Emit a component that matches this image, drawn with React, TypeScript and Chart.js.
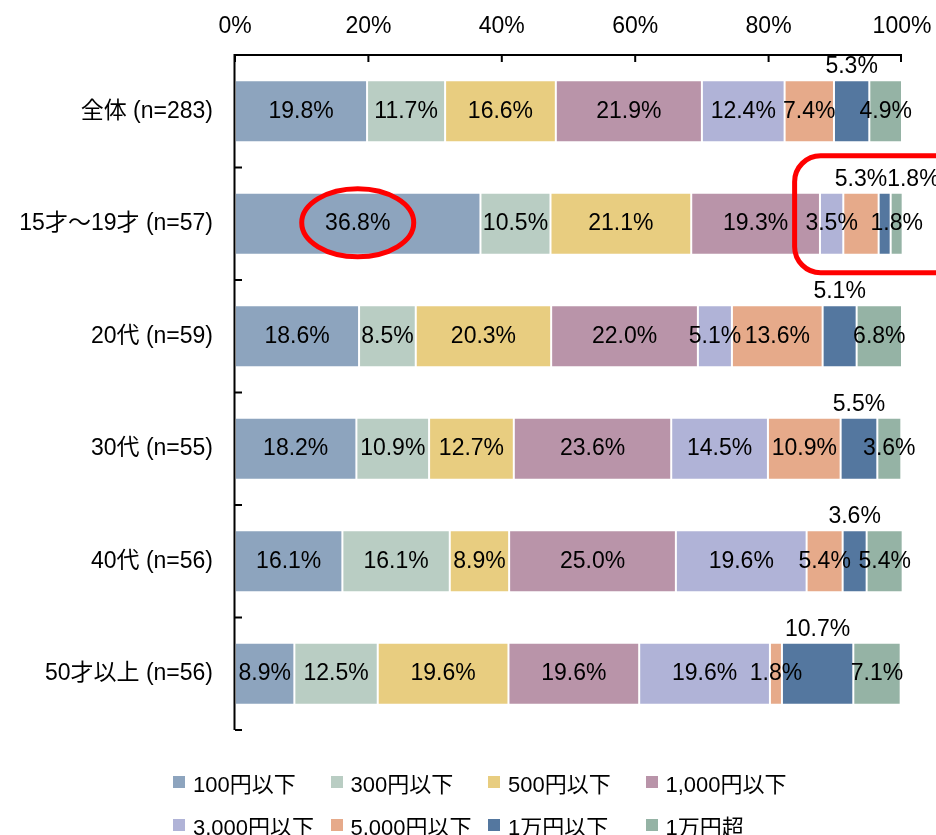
import React, { useEffect, useRef } from "react";
import { Chart, registerables } from "chart.js";

Chart.register(...registerables);

const categories = [
  "全体 (n=283)",
  "15才～19才 (n=57)",
  "20代 (n=59)",
  "30代 (n=55)",
  "40代 (n=56)",
  "50才以上 (n=56)",
];
const seriesNames = [
  "100円以下",
  "300円以下",
  "500円以下",
  "1,000円以下",
  "3,000円以下",
  "5,000円以下",
  "1万円以下",
  "1万円超",
];
const yen100 = [19.8, 36.8, 18.6, 18.2, 16.1, 8.9];
const yen300 = [11.7, 10.5, 8.5, 10.9, 16.1, 12.5];
const yen500 = [16.6, 21.1, 20.3, 12.7, 8.9, 19.6];
const yen1000 = [21.9, 19.3, 22.0, 23.6, 25.0, 19.6];
const yen3000 = [12.4, 3.5, 5.1, 14.5, 19.6, 19.6];
const yen5000 = [7.4, 5.3, 13.6, 10.9, 5.4, 1.8];
const man1 = [5.3, 1.8, 5.1, 5.5, 3.6, 10.7];
const over1man = [4.9, 1.8, 6.8, 3.6, 5.4, 7.1];
const xTickValues = [0, 20, 40, 60, 80, 100];

const seriesValues = [yen100, yen300, yen500, yen1000, yen3000, yen5000, man1, over1man];
const colors = [
  "#8DA4BE",
  "#B9CDC3",
  "#E8CD80",
  "#B994A9",
  "#B0B3D7",
  "#E6AA8A",
  "#54779F",
  "#95B3A5",
];
// [datasetIndex, rowIndex] of labels that sit above the bar
const labelsAbove: [number, number][] = [
  [6, 0], [6, 1], [6, 2], [6, 3], [6, 4], [6, 5],
  [5, 1],
];

const FONT = "'Liberation Sans', Arial, 'Noto Sans CJK JP', sans-serif";

const overlayPlugin = {
  id: "overlay",
  afterDatasetsDraw(chart: any) {
    const ctx = chart.ctx;
    const area = chart.chartArea;
    const xs = chart.scales.x;
    const ys = chart.scales.y;
    ctx.save();

    // data labels
    ctx.font = `23px ${FONT}`;
    ctx.fillStyle = "#000";
    ctx.textAlign = "center";
    ctx.textBaseline = "middle";
    const lastRight: number[] = categories.map(() => -Infinity);
    chart.data.datasets.forEach((ds: any, d: number) => {
      const meta = chart.getDatasetMeta(d);
      meta.data.forEach((el: any, j: number) => {
        const p = el.getProps(["x", "base", "y", "height"], true);
        const text = Number(ds.data[j]).toFixed(1) + "%";
        let cx = (p.x + p.base) / 2;
        let cy = p.y;
        const above = labelsAbove.some(([a, b]) => a === d && b === j);
        if (above) {
          const w = ctx.measureText(text).width;
          cy = p.y - p.height / 2 - 13;
          if (cx - w / 2 < lastRight[j]) cx = lastRight[j] + w / 2;
          lastRight[j] = cx + w / 2;
        }
        ctx.fillText(text, cx, cy);
      });
    });

    // axes
    ctx.strokeStyle = "#000";
    ctx.lineWidth = 2;
    ctx.beginPath();
    ctx.moveTo(area.left - 0.5, area.bottom);
    ctx.lineTo(area.left - 0.5, area.top);
    ctx.lineTo(area.right, area.top);
    ctx.stroke();
    ctx.beginPath();
    xTickValues.forEach((v) => {
      const x = Math.min(xs.getPixelForValue(v), area.right - 1);
      ctx.moveTo(x, area.top);
      ctx.lineTo(x, area.top + 7);
    });
    const step = (area.bottom - area.top) / categories.length;
    for (let i = 1; i <= categories.length; i++) {
      const y = ys.getPixelForValue(i - 1) + step / 2;
      ctx.moveTo(area.left, y);
      ctx.lineTo(area.left + 7, y);
    }
    ctx.stroke();

    // annotations
    ctx.strokeStyle = "#FF0000";
    ctx.lineWidth = 5;
    const e = chart.getDatasetMeta(0).data[1].getProps(["x", "base", "y"], true);
    ctx.beginPath();
    ctx.ellipse((e.x + e.base) / 2, e.y - 1, 56, 34, 0, 0, Math.PI * 2);
    ctx.stroke();

    const rowY = ys.getPixelForValue(1);
    const left = xs.getPixelForValue(83.9);
    const top = rowY - 68;
    const bottom = rowY + 49;
    const right = chart.width + 30;
    const r = 26;
    ctx.beginPath();
    ctx.moveTo(right, top);
    ctx.lineTo(left + r, top);
    ctx.arcTo(left, top, left, top + r, r);
    ctx.lineTo(left, bottom - r);
    ctx.arcTo(left, bottom, left + r, bottom, r);
    ctx.lineTo(right, bottom);
    ctx.stroke();

    ctx.restore();
  },
};

export default function App() {
  const canvasRef = useRef<HTMLCanvasElement | null>(null);

  useEffect(() => {
    const canvas = canvasRef.current;
    if (!canvas) return;
    const chart = new Chart(canvas, {
      type: "bar",
      data: {
        labels: categories,
        datasets: seriesNames.map((name, i) => ({
          label: name,
          data: seriesValues[i],
          backgroundColor: colors[i],
          borderColor: "rgba(255,255,255,0.55)",
          borderWidth: 1,
          borderSkipped: false,
          barPercentage: 0.553,
          categoryPercentage: 1,
        })),
      },
      options: {
        indexAxis: "y",
        responsive: false,
        animation: false,
        devicePixelRatio: 1,
        layout: { padding: { left: 0, top: 0, right: 34, bottom: 105 } },
        plugins: {
          legend: { display: false },
          tooltip: { enabled: false },
        },
        scales: {
          x: {
            type: "linear",
            position: "top",
            stacked: true,
            min: 0,
            max: 100,
            afterBuildTicks: (s: any) => {
              s.ticks = xTickValues.map((v) => ({ value: v }));
            },
            ticks: {
              callback: (v: any) => v + "%",
              color: "#000",
              font: { family: FONT, size: 23 },
              padding: 15,
              maxRotation: 0,
            },
            grid: { display: false, drawTicks: false },
            border: { display: false },
            afterFit: (s: any) => {
              s.height = 55;
              s.paddingLeft = 0;
              s.paddingRight = 0;
            },
          },
          y: {
            type: "category",
            position: "left",
            stacked: true,
            ticks: {
              color: "#000",
              font: { family: FONT, size: 23 },
              padding: 22,
            },
            grid: { display: false, drawTicks: false },
            border: { display: false },
            afterFit: (s: any) => {
              s.width = 235;
              s.paddingTop = 0;
              s.paddingBottom = 0;
            },
          },
        },
      } as any,
      plugins: [overlayPlugin],
    });
    return () => chart.destroy();
  }, []);

  return (
    <div style={{ position: "absolute", left: 0, top: 0, width: 936, height: 835, background: "#fff" }}>
      <canvas ref={canvasRef} width={936} height={835} style={{ position: "absolute", left: 0, top: 0 }} />
      <div
        style={{
          position: "absolute",
          left: 173,
          top: 760,
          display: "grid",
          gridTemplateColumns: "repeat(4, 157.5px)",
          gridAutoRows: "43px",
          fontFamily: FONT,
          fontSize: 22,
          color: "#000",
        }}
      >
        {seriesNames.map((name, i) => (
          <div key={name} style={{ display: "flex", alignItems: "center", whiteSpace: "nowrap" }}>
            <span style={{ display: "inline-block", width: 12, height: 12, background: colors[i], marginRight: 8 }} />
            <span>{name}</span>
          </div>
        ))}
      </div>
    </div>
  );
}
